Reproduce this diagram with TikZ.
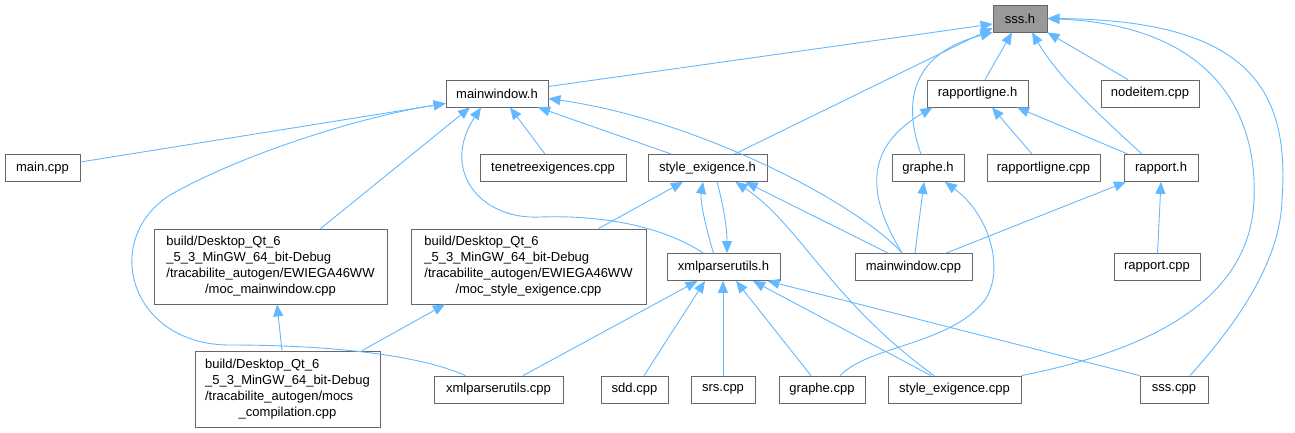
\documentclass[tikz,border=0pt]{standalone}
\usepackage{fontspec}
\setmainfont{Liberation Sans}
\usetikzlibrary{arrows.meta}
\definecolor{edgeblue}{HTML}{63B8FF}
\definecolor{boxgray}{HTML}{666666}
\definecolor{rootgray}{HTML}{999999}
\begin{document}
\begin{tikzpicture}[x=1pt,y=-1pt,
    file/.style={draw=boxgray, line width=0.8pt, fill=white, inner sep=0pt,
      minimum height=27pt, font=\fontsize{13}{16}\selectfont},
    root/.style={file, fill=rootgray},
    inc/.style={draw=edgeblue, line width=0.9pt, -{Triangle[length=12pt,width=10pt]}}]
\useasboundingbox (0,0) rectangle (1295,432);
% files, row by row
\node[root, minimum width=54pt] (sssh) at (1020,18.5) {sss.h};
\node[file, minimum width=102pt] (mwh) at (497,93.5) {mainwindow.h};
\node[file, minimum width=101pt] (rlh) at (977.5,93.5) {rapportligne.h};
\node[file, minimum width=98pt] (nodeitem) at (1150,93.5) {nodeitem.cpp};
\node[file, minimum width=75pt] (maincpp) at (42.5,168) {main.cpp};
\node[file, minimum width=146pt] (tenetree) at (553,168) {tenetreexigences.cpp};
\node[file, minimum width=119pt] (styleh) at (707.5,168) {style\_exigence.h};
\node[file, minimum width=72pt] (grapheh) at (928,168) {graphe.h};
\node[file, minimum width=113pt] (rlcpp) at (1043.5,168) {rapportligne.cpp};
\node[file, minimum width=74pt] (rapporth) at (1161,168) {rapport.h};
\node[file, minimum width=233pt, minimum height=75pt] (mocmw) at (270.5,266.5) {\begin{tabular}{@{}l@{}}build/Desktop\_Qt\_6\\ \_5\_3\_MinGW\_64\_bit-Debug\\ /tracabilite\_autogen/EWIEGA46WW\\ \multicolumn{1}{@{}c@{}}{/moc\_mainwindow.cpp}\end{tabular}};
\node[file, minimum width=235pt, minimum height=75pt] (mocse) at (528.5,266.5) {\begin{tabular}{@{}l@{}}build/Desktop\_Qt\_6\\ \_5\_3\_MinGW\_64\_bit-Debug\\ /tracabilite\_autogen/EWIEGA46WW\\ \multicolumn{1}{@{}c@{}}{/moc\_style\_exigence.cpp}\end{tabular}};
\node[file, minimum width=113pt] (xmlh) at (723.5,267) {xmlparserutils.h};
\node[file, minimum width=117pt] (mwcpp) at (913.5,267) {mainwindow.cpp};
\node[file, minimum width=86pt] (rapportcpp) at (1157,267) {rapport.cpp};
\node[file, minimum width=185pt, minimum height=76pt] (mocs) at (287.5,389) {\begin{tabular}{@{}l@{}}build/Desktop\_Qt\_6\\ \_5\_3\_MinGW\_64\_bit-Debug\\ /tracabilite\_autogen/mocs\\ \multicolumn{1}{@{}c@{}}{\_compilation.cpp}\end{tabular}};
\node[file, minimum width=129pt] (xmlcpp) at (498.5,389.5) {xmlparserutils.cpp};
\node[file, minimum width=67pt] (sddcpp) at (634.5,389.5) {sdd.cpp};
\node[file, minimum width=64pt] (srscpp) at (723,389.5) {srs.cpp};
\node[file, minimum width=86pt] (graphecpp) at (822,389.5) {graphe.cpp};
\node[file, minimum width=133pt] (secpp) at (954.5,389.5) {style\_exigence.cpp};
\node[file, minimum width=68pt] (ssscpp) at (1174,389.5) {sss.cpp};
% includes of sss.h
\draw[inc] ([yshift=7pt]mwh.east) -- ([yshift=-5.5pt]sssh.west);
\draw[inc] ([xshift=27pt]styleh.north) -- ([yshift=-9.5pt]sssh.west);
\draw[inc] ([xshift=-7pt]grapheh.north) .. controls (905,110) and (905,55) .. (sssh.south west);
\draw[inc] ([xshift=7.5pt]rlh.north) -- ([xshift=-8pt]sssh.south);
\draw[inc] ([xshift=-19pt]rapporth.north) .. controls (1105,120) and (1060,80) .. ([xshift=12pt]sssh.south);
\draw[inc] ([xshift=-22pt]nodeitem.north) -- (sssh.south east);
\draw[inc] (secpp.north east) .. controls (1150,350) and (1250,300) .. (1254,200)
  .. controls (1258,100) and (1200,25) .. (sssh.east);
\draw[inc] ([xshift=16pt]ssscpp.north) .. controls (1240,320) and (1280,260) .. (1282,200)
  .. controls (1290,90) and (1250,20) .. (sssh.east);
% includes of mainwindow.h
\draw[inc] ([yshift=6pt]maincpp.east) -- ([yshift=-10pt]mwh.west);
\draw[inc] ([xshift=-8pt]tenetree.north) -- ([xshift=13pt]mwh.south);
\draw[inc] ([xshift=-36pt]styleh.north) -- ([xshift=41pt]mwh.south);
\draw[inc] ([xshift=-11.5pt]mwcpp.north) .. controls (860,205) and (700,120) .. ([yshift=-5pt]mwh.east);
\draw[inc] ([xshift=50pt]mocmw.north) -- ([xshift=-27pt]mwh.south);
\draw[inc] ([xshift=-33pt]xmlcpp.north) .. controls (420,355) and (330,345) .. (230,345)
  .. controls (130,345) and (100,240) .. (170,195)
  .. controls (250,150) and (370,115) .. ([yshift=-10pt]mwh.west);
\draw[inc] ([xshift=-20pt]xmlh.north) .. controls (660,225) and (600,215) .. (540,217)
  .. controls (480,220) and (440,170) .. ([xshift=-16pt]mwh.south);
% includes of style_exigence.h
\draw[inc] ([xshift=70pt]mocse.north) -- ([xshift=-24.5pt]styleh.south);
\draw[inc] ([xshift=-10pt]xmlh.north) .. controls (705,225) and (700,200) .. ([xshift=-4.5pt]styleh.south);
\draw[inc] ([xshift=9.5pt]styleh.south) .. controls (722,200) and (727,225) .. ([xshift=3.5pt]xmlh.north);
\draw[inc] ([xshift=-25.5pt]mwcpp.north) -- ([xshift=38pt]styleh.south);
\draw[inc] ([xshift=-20.5pt]secpp.north) .. controls (830,300) and (800,225) .. ([xshift=28pt]styleh.south);
% includes of graphe.h, rapportligne.h, rapport.h
\draw[inc] ([xshift=1.5pt]mwcpp.north) -- ([xshift=-4pt]grapheh.south);
\draw[inc] ([xshift=18pt]graphecpp.north) .. controls (870,345) and (950,345) .. (985,300)
  .. controls (1005,270) and (990,215) .. ([xshift=17pt]grapheh.south);
\draw[inc] ([xshift=-11.5pt]mwcpp.north) .. controls (870,200) and (860,150) .. ([xshift=-45pt]rlh.south);
\draw[inc] ([xshift=-11.5pt]rlcpp.north) -- ([xshift=14.5pt]rlh.south);
\draw[inc] ([xshift=-33pt]rapporth.north) -- ([xshift=39.5pt]rlh.south);
\draw[inc] ([xshift=32.5pt]mwcpp.north) -- ([xshift=-35pt]rapporth.south);
\draw[inc] ([xshift=0.5pt]rapportcpp.north) -- (rapporth.south);
% includes of xmlparserutils.h
\draw[inc] ([xshift=24.5pt]xmlcpp.north) -- ([xshift=-26pt]xmlh.south);
\draw[inc] ([xshift=9.5pt]sddcpp.north) -- ([xshift=-18.5pt]xmlh.south);
\draw[inc] (srscpp.north) -- ([xshift=-0.5pt]xmlh.south);
\draw[inc] ([xshift=-11pt]graphecpp.north) -- ([xshift=12.5pt]xmlh.south);
\draw[inc] ([xshift=-23.5pt]secpp.north) -- ([xshift=29.5pt]xmlh.south);
\draw[inc] (ssscpp.north west) -- ([xshift=44pt]xmlh.south);
% generated moc files
\draw[inc] ([xshift=-5.5pt]mocs.north) -- ([xshift=6.5pt]mocmw.south);
\draw[inc] ([xshift=74.5pt]mocs.north) -- ([xshift=-83.5pt]mocse.south);
\end{tikzpicture}
\end{document}
